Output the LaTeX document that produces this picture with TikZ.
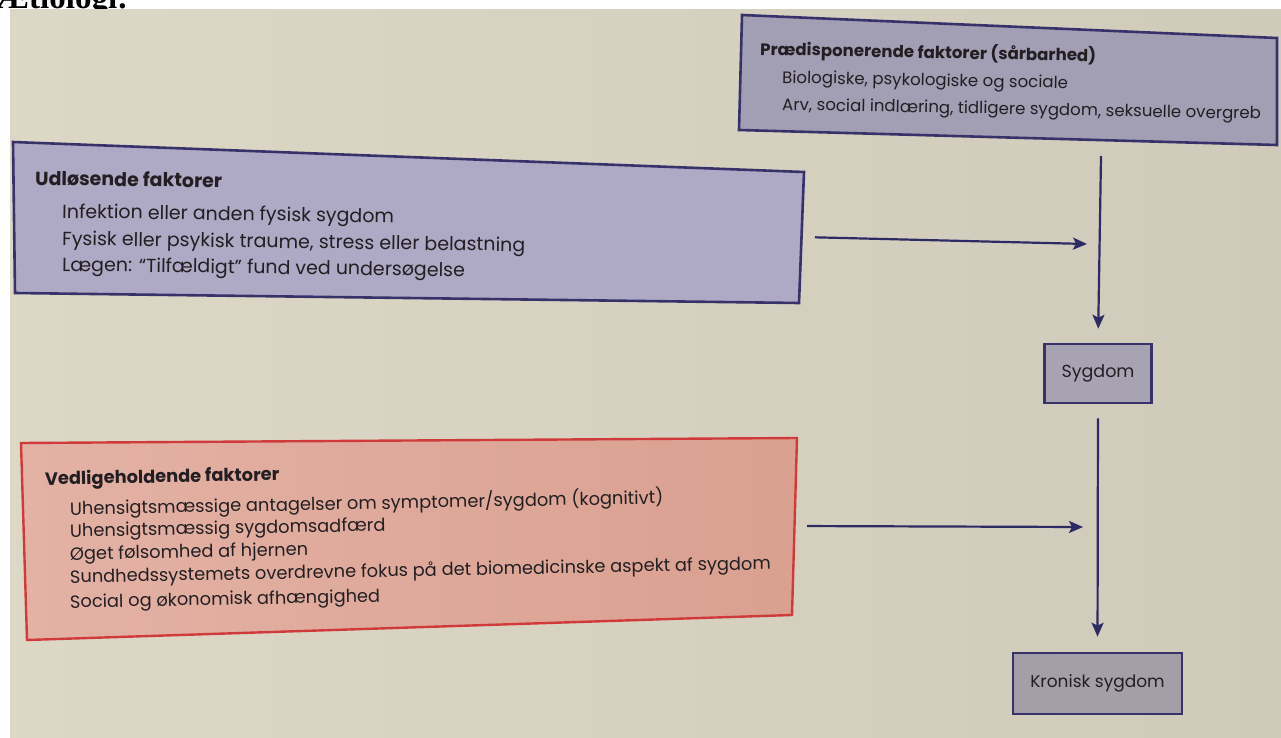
\documentclass[tikz,border=0pt]{standalone}
\usepackage{fontspec}
\setmainfont{Poppins}
\newfontfamily\serifbold{Liberation Serif}
\usetikzlibrary{arrows.meta}
\definecolor{paperL}{HTML}{DDD8C6}
\definecolor{paperR}{HTML}{D0CABA}
\definecolor{navy}{HTML}{37336A}
\definecolor{arrowc}{HTML}{2D2A64}
\definecolor{lavA}{HTML}{A29EB4}
\definecolor{lavB}{HTML}{AEA9C4}
\definecolor{lavC}{HTML}{A8A3B3}
\definecolor{lavD}{HTML}{A39EA8}
\definecolor{salmonL}{HTML}{E3B2A5}
\definecolor{salmonR}{HTML}{DAA090}
\definecolor{redline}{HTML}{D13A3A}
\definecolor{ink}{HTML}{221E22}
\tikzset{
  boxline/.style={draw=navy, line width=2.6pt, line join=miter},
  redbox/.style={draw=redline, line width=2.4pt, line join=miter},
  txt/.style={anchor=base west, inner sep=0pt, text=ink},
  smallbox/.style={draw=navy, line width=2.6pt, text=ink, inner sep=0pt},
  arr/.style={draw=arrowc, line width=2.2pt, -{Stealth[length=14pt,width=12pt,inset=3pt]}},
}
\begin{document}
\begin{tikzpicture}[x=1pt,y=-1pt]
\useasboundingbox (0,0) rectangle (1281,738);
\fill[white] (0,0) rectangle (1281,738);
\node[anchor=base west, inner sep=0pt, font=\serifbold\bfseries\fontsize{33}{33}\selectfont] (title) at (-4,9) {Ætiologi:};
\shade[left color=paperL, right color=paperR] (10,10) rectangle (1281,738);

% Praedisponerende
\coordinate (p-tl) at (742,15);
\coordinate (p-tr) at (1277,38);
\coordinate (p-br) at (1277,145);
\coordinate (p-bl) at (739,130);
\fill[lavA] (p-tl) -- (p-tr) -- (p-br) -- (p-bl) -- cycle;
\draw[boxline] (p-tl) -- (p-tr) -- (p-br) -- (p-bl) -- cycle;
\node[txt, rotate=-1.1, font=\bfseries\fontsize{16.6}{20}\selectfont] (p-h) at (760,55) {Prædisponerende faktorer (sårbarhed)};
\node[txt, rotate=-1.1, font=\fontsize{16.6}{20}\selectfont] (p-1) at (782,83) {Biologiske, psykologiske og sociale};
\node[txt, rotate=-1.1, font=\fontsize{16.6}{20}\selectfont] (p-2) at (782,110) {Arv, social indlæring, tidligere sygdom, seksuelle overgreb};

% Udloesende
\coordinate (u-tl) at (13,142);
\coordinate (u-tr) at (804,172);
\coordinate (u-br) at (799,303);
\coordinate (u-bl) at (15,293);
\coordinate (u-e) at (802,237);
\fill[lavB] (u-tl) -- (u-tr) -- (u-br) -- (u-bl) -- cycle;
\draw[boxline] (u-tl) -- (u-tr) -- (u-br) -- (u-bl) -- cycle;
\node[txt, rotate=-0.8, font=\bfseries\fontsize{19}{22}\selectfont] (u-h) at (35,185) {Udløsende faktorer};
\node[txt, rotate=-0.8, font=\fontsize{19}{22}\selectfont] (u-1) at (62,218) {Infektion eller anden fysisk sygdom};
\node[txt, rotate=-0.8, font=\fontsize{19}{22}\selectfont] (u-2) at (62,245) {Fysisk eller psykisk traume, stress eller belastning};
\node[txt, rotate=-0.8, font=\fontsize{19}{22}\selectfont] (u-3) at (62,271) {Lægen: “Tilfældigt” fund ved undersøgelse};

% Vedligeholdende
\coordinate (v-tl) at (21,443);
\coordinate (v-tr) at (797,438);
\coordinate (v-br) at (792,615);
\coordinate (v-bl) at (27,640);
\coordinate (v-e) at (795,526);
\shade[left color=salmonL, right color=salmonR] (v-tl) -- (v-tr) -- (v-br) -- (v-bl) -- cycle;
\draw[redbox] (v-tl) -- (v-tr) -- (v-br) -- (v-bl) -- cycle;
\node[txt, rotate=1.1, font=\bfseries\fontsize{17.8}{21}\selectfont] (v-h) at (45,485) {Vedligeholdende faktorer};
\node[txt, rotate=1.1, font=\fontsize{17.8}{21}\selectfont] (v-1) at (70,515) {Uhensigtsmæssige antagelser om symptomer/sygdom (kognitivt)};
\node[txt, rotate=1.1, font=\fontsize{17.8}{21}\selectfont] (v-2) at (70,537) {Uhensigtsmæssig sygdomsadfærd};
\node[txt, rotate=1.1, font=\fontsize{17.8}{21}\selectfont] (v-3) at (70,560) {Øget følsomhed af hjernen};
\node[txt, rotate=1.1, font=\fontsize{17.8}{21}\selectfont] (v-4) at (70,583) {Sundhedssystemets overdrevne fokus på det biomedicinske aspekt af sygdom};
\node[txt, rotate=1.1, font=\fontsize{17.8}{21}\selectfont] (v-5) at (70,608) {Social og økonomisk afhængighed};

% Outcome boxes
\node[smallbox, fill=lavC, minimum width=107pt, minimum height=59pt, font=\fontsize{17.5}{20}\selectfont] (sygdom) at (1098,373.5) {Sygdom};
\node[smallbox, fill=lavD, minimum width=169pt, minimum height=61pt, font=\fontsize{17}{20}\selectfont] (kronisk) at (1097.5,683.5) {Kronisk sygdom};

% Connectors
\coordinate (pd) at (1101,156);
\coordinate (j1) at (1087,244);
\coordinate (j2) at (1083,527);
\draw[arr, shorten >=14pt] (pd) -- (sygdom.north);
\draw[arr, shorten <=14pt, shorten >=15pt] (sygdom.south) -- (kronisk.north);
\draw[arr, shorten <=13pt] (u-e) -- (j1);
\draw[arr, shorten <=12pt] (v-e) -- (j2);
\end{tikzpicture}
\end{document}
